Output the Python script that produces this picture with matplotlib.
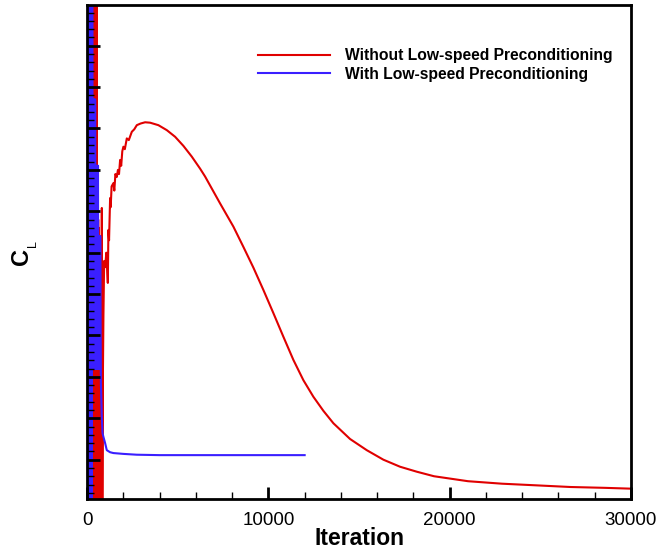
import numpy as np
import matplotlib.pyplot as plt
from matplotlib.ticker import MultipleLocator

plt.rcParams['font.family'] = ['Liberation Sans', 'DejaVu Sans']

# Without preconditioning: strong oscillation at start, then slow transient
red_iter = [290, 310, 330, 350, 370, 390, 410, 430, 450, 470, 490, 510, 530,
            550, 570, 590, 610, 630, 650, 670, 690, 710, 730, 750, 770, 790, 811,
            840, 870, 900, 940, 993, 1060, 1142, 1175, 1210, 1268, 1300, 1350,
            1450, 1500, 1560, 1638, 1700, 1760, 1820, 1880, 1940, 2002, 2080,
            2189, 2300, 2465, 2600, 2741, 2950, 3199, 3474, 3932, 4395, 4853,
            5311, 5774, 6232, 6507, 7335, 8068, 8620, 9171, 9723, 10275, 10826,
            11378, 11930, 12481, 13033, 13585, 14504, 15425, 16342, 17261, 18182,
            19136, 21011, 22886, 24789, 26669, 28555, 30000]
red_cl = [1.25, -0.05, 1.25, 0.00, 1.25, -0.05, 1.25, 0.00, 1.25, -0.05, 1.25, 0.00, 1.25,
          -0.05, 0.70, 0.00, 0.68, -0.05, 0.66, 0.00, 0.62, -0.05, 0.60, 0.00, 0.55, -0.05, 0.708,
          0.00, 0.30, 0.45, 0.58, 0.565, 0.60, 0.527, 0.655, 0.63, 0.732, 0.71, 0.76,
          0.768, 0.75, 0.79, 0.783, 0.80, 0.79, 0.824, 0.81, 0.845, 0.856, 0.850,
          0.876, 0.872, 0.892, 0.898, 0.908, 0.912, 0.915, 0.914, 0.908, 0.896, 0.880,
          0.858, 0.832, 0.803, 0.784, 0.719, 0.663, 0.614, 0.564, 0.510, 0.454, 0.397,
          0.341, 0.292, 0.252, 0.218, 0.188, 0.150, 0.123, 0.100, 0.083, 0.071,
          0.060, 0.048, 0.042, 0.038, 0.034, 0.032, 0.030]

# With preconditioning: short oscillation, then settles quickly
blue_iter = [0, 20, 40, 60, 80, 100, 120, 140, 160, 180, 200, 220, 240, 260, 280,
             300, 320, 340, 360, 380, 400, 420, 440, 460, 480, 500, 520, 540, 560,
             580, 600, 620, 640, 660, 680, 700, 720, 760, 811, 850, 900, 993, 1085,
             1268, 1450, 2000, 2741, 4000, 12000]
blue_cl = [1.25, -0.05, 1.25, -0.05, 1.25, -0.05, 1.25, -0.05, 1.25, -0.05, 1.25, -0.05, 1.25, -0.05, 1.25,
           0.32, 0.97, 0.32, 0.97, 0.32, 0.97, 0.32, 0.97, 0.32, 0.81, 0.32, 0.81, 0.32, 0.81,
           0.32, 0.81, 0.32, 0.64, 0.32, 0.64, 0.32, 0.64, 0.285, 0.20, 0.164, 0.155, 0.14, 0.123,
           0.118, 0.116, 0.114, 0.112, 0.111, 0.111]

fig = plt.figure(figsize=(6.6, 5.5), dpi=100)
ax = fig.add_axes([0.132, 0.0927, 0.824, 0.898])

ax.plot(red_iter, red_cl, color='#e00000', lw=1.5, zorder=1,
        label='Without Low-speed Preconditioning')
ax.plot(blue_iter, blue_cl, color='#3a1fff', lw=1.5, zorder=1.1,
        label='With Low-speed Preconditioning')

ax.set_xlim(0, 30000)
ax.set_ylim(0.005, 1.198)
ax.xaxis.set_major_locator(MultipleLocator(10000))
ax.xaxis.set_minor_locator(MultipleLocator(2000))
ax.yaxis.set_major_locator(MultipleLocator(0.1))
ax.yaxis.set_minor_locator(MultipleLocator(0.02))
ax.tick_params(which='both', direction='in', top=False, right=False, labelleft=False)
ax.tick_params(which='major', length=9, width=2, labelsize=13.5, pad=9)
ax.tick_params(which='minor', length=4.7, width=1)
for s in ax.spines.values():
    s.set_linewidth(2)

ax.set_xlabel('Iteration', fontsize=16.5, fontweight='bold', labelpad=-1)
fig.text(21.5 / 660, 1 - 256.5 / 550, 'C', rotation=90, ha='center', va='center',
         fontsize=17, fontweight='bold')
fig.text(33 / 660, 1 - 243.5 / 550, 'L', rotation=90, ha='center', va='center',
         fontsize=9)

ax.legend(loc='upper left', bbox_to_anchor=((258 - 87) / 544, 1 - 43 / 494),
          frameon=False, borderpad=0, borderaxespad=0, handlelength=4.6,
          handletextpad=0.95, labelspacing=0.22,
          prop={'size': 11.25, 'weight': 'bold'})

fig.savefig('out.png', dpi=100)
